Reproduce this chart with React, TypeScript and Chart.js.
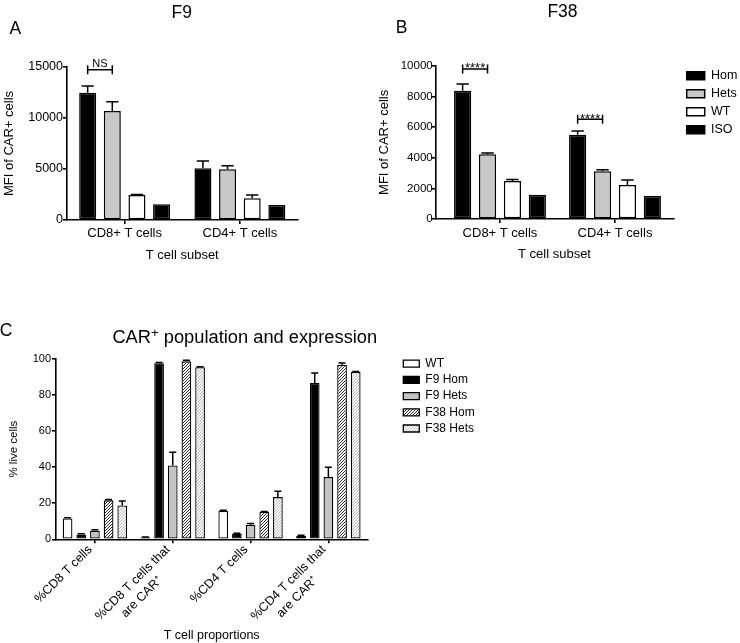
import React, { useEffect, useRef } from 'react';
import { Chart, registerables } from 'chart.js';

Chart.register(...registerables);

const FONT = '"Liberation Sans", Arial, Helvetica, sans-serif';
Chart.defaults.font.family = FONT;
Chart.defaults.color = '#000';

// ---------- Panels A (F9) and B (F38) ----------
const subsetCategories = ['CD8+ T cells', 'CD4+ T cells'];
const subsetSeries = ['Hom', 'Hets', 'WT', 'ISO'];

const f9Hom = [12480, 5070];
const f9HomErr = [650, 720];
const f9Hets = [10690, 4970];
const f9HetsErr = [900, 350];
const f9WT = [2440, 2140];
const f9WTErr = [60, 320];
const f9ISO = [1540, 1470];
const f9ISOErr = [0, 0];
const f9Ticks = [0, 5000, 10000, 15000];
const f9Brackets = [{ category: 0, from: 0, to: 1, value: 14735, label: 'NS' }];

const f38Hom = [8370, 5500];
const f38HomErr = [440, 240];
const f38Hets = [4220, 3110];
const f38HetsErr = [80, 100];
const f38WT = [2480, 2220];
const f38WTErr = [100, 320];
const f38ISO = [1590, 1500];
const f38ISOErr = [0, 0];
const f38Ticks = [0, 2000, 4000, 6000, 8000, 10000];
const f38Brackets = [
  { category: 0, from: 0, to: 1, value: 9785, label: '****' },
  { category: 1, from: 0, to: 1, value: 6504, label: '****' },
];

// ---------- Panel C ----------
const proportionCategories = [
  ['%CD8 T cells'],
  ['%CD8 T cells that', 'are CAR\u207A'],
  ['%CD4 T cells'],
  ['%CD4 T cells that', 'are CAR\u207A'],
];
const proportionSeries = ['WT', 'F9 Hom', 'F9 Hets', 'F38 Hom', 'F38 Hets'];
const cWT = [11.5, 1.1, 15.7, 1.8];
const cWTErr = [0.5, 0.2, 0.4, 0.5];
const cF9Hom = [2.6, 97.6, 3.1, 86.7];
const cF9HomErr = [0.5, 0.4, 0.2, 5.5];
const cF9Hets = [4.8, 41, 8.1, 34.5];
const cF9HetsErr = [0.5, 7.3, 0.7, 5.5];
const cF38Hom = [21.6, 98.7, 15.1, 96.8];
const cF38HomErr = [0.5, 0.6, 0.3, 1.0];
const cF38Hets = [18.8, 95.4, 23.4, 92.8];
const cF38HetsErr = [2.4, 0.3, 3.2, 0.3];
const cTicks = [0, 20, 40, 60, 80, 100];

// ---------- plugins ----------
const errorBarPlugin = {
  id: 'errorBars',
  afterDatasetsDraw(chart: any) {
    const ctx = chart.ctx;
    chart.data.datasets.forEach((ds: any, di: number) => {
      if (!ds.errors) return;
      const meta = chart.getDatasetMeta(di);
      const yScale = chart.scales[meta.yAxisID];
      meta.data.forEach((bar: any, i: number) => {
        const err = ds.errors[i];
        if (!err) return;
        const raw = ds.data[i];
        const v = typeof raw === 'number' ? raw : raw.y;
        const yTop = yScale.getPixelForValue(v + err);
        const p = bar.getProps(['x', 'y', 'width'], true);
        ctx.save();
        ctx.strokeStyle = '#000';
        ctx.lineWidth = 1.5;
        ctx.beginPath();
        ctx.moveTo(p.x, p.y);
        ctx.lineTo(p.x, yTop);
        ctx.moveTo(p.x - p.width * 0.36, yTop);
        ctx.lineTo(p.x + p.width * 0.36, yTop);
        ctx.stroke();
        ctx.restore();
      });
    });
  },
};

function makeBracketPlugin(items: any[]) {
  return {
    id: 'brackets',
    afterDatasetsDraw(chart: any) {
      const ctx = chart.ctx;
      const yScale = chart.scales.y;
      items.forEach((b) => {
        const x1 = chart.getDatasetMeta(b.from).data[b.category].x;
        const x2 = chart.getDatasetMeta(b.to).data[b.category].x;
        const y = yScale.getPixelForValue(b.value);
        ctx.save();
        ctx.strokeStyle = '#000';
        ctx.lineWidth = 1.5;
        ctx.beginPath();
        ctx.moveTo(x1, y);
        ctx.lineTo(x2, y);
        ctx.moveTo(x1, y - 4.5);
        ctx.lineTo(x1, y + 4.5);
        ctx.moveTo(x2, y - 4.5);
        ctx.lineTo(x2, y + 4.5);
        ctx.stroke();
        const stars = /^\*+$/.test(b.label);
        ctx.fillStyle = '#000';
        ctx.textAlign = 'center';
        ctx.textBaseline = 'alphabetic';
        ctx.font = `${stars ? 13 : 11}px ${FONT}`;
        ctx.fillText(b.label, (x1 + x2) / 2, y + (stars ? 3.5 : -2.5));
        ctx.restore();
      });
    },
  };
}

function hatch(color: string, size: number) {
  const c = document.createElement('canvas');
  c.width = size;
  c.height = size;
  const g = c.getContext('2d')!;
  g.fillStyle = '#fff';
  g.fillRect(0, 0, size, size);
  g.strokeStyle = color;
  g.lineWidth = 1;
  g.beginPath();
  g.moveTo(0, size);
  g.lineTo(size, 0);
  g.moveTo(-1, 1);
  g.lineTo(1, -1);
  g.moveTo(size - 1, size + 1);
  g.lineTo(size + 1, size - 1);
  g.stroke();
  return g.createPattern(c, 'repeat')!;
}

// ---------- helpers ----------
const LINE = 1.6;
const border = { display: true, color: '#000', width: LINE };

function yAxis(ticks: number[], title: string, o: any) {
  return {
    type: 'linear',
    min: ticks[0],
    max: ticks[ticks.length - 1],
    afterFit: (s: any) => { s.width = o.width; },
    afterBuildTicks: (s: any) => { s.ticks = ticks.map((v) => ({ value: v })); },
    border,
    grid: { drawOnChartArea: false, drawTicks: true, tickLength: 4, color: '#000', lineWidth: LINE },
    ticks: { color: '#000', font: { size: o.tickFont }, padding: o.tickPad, callback: (v: any) => String(v) },
    title: { display: true, text: title, color: '#000', font: { size: o.titleFont }, padding: { top: o.titlePad, bottom: 0 } },
  };
}

function dummy(position: string, size: number, type = 'linear') {
  return {
    type,
    position,
    display: true,
    afterFit: (s: any) => { if (position === 'top') s.height = size; else s.width = size; },
    ticks: { display: false },
    grid: { display: false, drawTicks: false },
    border: { display: false },
    title: { display: false },
  };
}

const subsetStyles = [
  { backgroundColor: '#000' },
  { backgroundColor: '#c8c8c8' },
  { backgroundColor: '#ffffff' },
  { backgroundColor: '#000' },
];

function configA(): any {
  const values = [f9Hom, f9Hets, f9WT, f9ISO];
  const errs = [f9HomErr, f9HetsErr, f9WTErr, f9ISOErr];
  return {
    type: 'bar',
    data: {
      labels: subsetCategories,
      datasets: subsetSeries.map((name, i) => ({
        label: name,
        data: values[i],
        errors: errs[i],
        ...subsetStyles[i],
        borderColor: '#000',
        borderWidth: 1.5,
        borderSkipped: false,
        categoryPercentage: 0.855,
        barPercentage: 0.69,
        xAxisID: 'x',
        yAxisID: 'y',
      })),
    },
    options: {
      responsive: false,
      animation: false,
      events: [],
      layout: { padding: { top: 67, left: 0, right: 2.5, bottom: 0 } },
      plugins: { legend: { display: false }, tooltip: { enabled: false } },
      scales: {
        x: {
          type: 'category',
          afterFit: (s: any) => { s.height = 50; },
          border,
          grid: { offset: false, drawOnChartArea: false, tickLength: 4, color: '#000', lineWidth: LINE },
          ticks: { color: '#000', font: { size: 13 }, padding: 1.5, maxRotation: 0, autoSkip: false },
          title: { display: true, text: 'T cell subset', color: '#000', font: { size: 13 }, padding: { top: 0, bottom: 6.5 } },
        },
        y: yAxis(f9Ticks, 'MFI of CAR+ cells', { width: 67, tickFont: 12.5, tickPad: 0, titleFont: 13, titlePad: 1.2 }),
      },
    },
    plugins: [errorBarPlugin, makeBracketPlugin(f9Brackets)],
  };
}

function configB(): any {
  const values = [f38Hom, f38Hets, f38WT, f38ISO];
  const errs = [f38HomErr, f38HetsErr, f38WTErr, f38ISOErr];
  const last = subsetCategories.length - 1;
  return {
    type: 'bar',
    data: {
      datasets: subsetSeries.map((name, i) => ({
        label: name,
        data: values[i].map((v, k) => ({ x: k, y: v })),
        errors: errs[i],
        ...subsetStyles[i],
        borderColor: '#000',
        borderWidth: 1.5,
        borderSkipped: false,
        categoryPercentage: 0.866,
        barPercentage: 0.69,
        xAxisID: 'x',
        yAxisID: 'y',
      })),
    },
    options: {
      responsive: false,
      animation: false,
      events: [],
      layout: { padding: { top: 64, left: 0, right: 0, bottom: 0 } },
      plugins: {
        tooltip: { enabled: false },
        legend: {
          display: true,
          position: 'right',
          align: 'start',
          maxWidth: 58.8,
          labels: { color: '#000', font: { size: 12.5 }, boxWidth: 18, boxHeight: 8, padding: 5.5 },
        },
      },
      scales: {
        x: {
          type: 'linear',
          min: -0.559,
          max: last + 0.507,
          offset: false,
          afterFit: (s: any) => { s.height = 51; },
          afterBuildTicks: (s: any) => { s.ticks = subsetCategories.map((_, k) => ({ value: k })); },
          border,
          grid: { offset: false, drawOnChartArea: false, tickLength: 4, color: '#000', lineWidth: LINE },
          ticks: {
            color: '#000', font: { size: 13 }, padding: 2.5, maxRotation: 0, autoSkip: false,
            callback: (v: any) => subsetCategories[Math.round(v)] ?? '',
          },
          title: { display: true, text: 'T cell subset', color: '#000', font: { size: 13 }, padding: { top: 0, bottom: 7.9 } },
        },
        xTop: dummy('top', 1.7),
        y: yAxis(f38Ticks, 'MFI of CAR+ cells', { width: 65.7, tickFont: 11.5, tickPad: -1, titleFont: 13, titlePad: 6.5 }),
        yRight: dummy('right', 7.9),
      },
    },
    plugins: [errorBarPlugin, makeBracketPlugin(f38Brackets)],
  };
}

function configC(): any {
  const values = [cWT, cF9Hom, cF9Hets, cF38Hom, cF38Hets];
  const errs = [cWTErr, cF9HomErr, cF9HetsErr, cF38HomErr, cF38HetsErr];
  const fills: any[] = ['#ffffff', '#000000', '#c4c4c4', hatch('#2a2a2a', 3), hatch('#b4b4b4', 3)];
  return {
    type: 'bar',
    data: {
      labels: proportionCategories,
      datasets: proportionSeries.map((name, i) => ({
        label: name,
        data: values[i],
        errors: errs[i],
        backgroundColor: fills[i],
        borderColor: '#000',
        borderWidth: 1.3,
        borderSkipped: false,
        categoryPercentage: 0.878,
        barPercentage: 0.71,
        xAxisID: 'x',
        yAxisID: 'y',
      })),
    },
    options: {
      responsive: false,
      animation: false,
      events: [],
      layout: { padding: { top: 53.5, left: 0, right: 0, bottom: 0 } },
      plugins: {
        tooltip: { enabled: false },
        legend: {
          display: true,
          position: 'right',
          align: 'start',
          maxWidth: 80.9,
          labels: { color: '#000', font: { size: 12 }, boxWidth: 16, boxHeight: 7, padding: 4.2 },
        },
      },
      scales: {
        x: {
          type: 'category',
          afterFit: (s: any) => { s.height = 103.7; },
          border,
          grid: { offset: false, drawOnChartArea: false, tickLength: 4, color: '#000', lineWidth: LINE },
          ticks: {
            color: '#000', font: { size: 12.5, lineHeight: 1.3 }, padding: -1.4, labelOffset: -4.6,
            minRotation: 45, maxRotation: 45, autoSkip: false,
            callback: (v: any) => {
              const lines = proportionCategories[v] || [];
              return lines.map((l, k) => (k > 0 ? l + '\u00a0'.repeat(8) : l));
            },
          },
          title: { display: true, text: 'T cell proportions', color: '#000', font: { size: 12.5 }, padding: { top: 0, bottom: 0 } },
        },
        xTop: dummy('top', 5.5, 'category'),
        y: yAxis(cTicks, '% live cells', { width: 56, tickFont: 11, tickPad: 1, titleFont: 11.5, titlePad: 7 }),
        yRight: dummy('right', 31.8),
      },
    },
    plugins: [errorBarPlugin],
  };
}

function Label(props: { x: number; y: number; size: number; children: any }) {
  return (
    <div
      style={{
        position: 'absolute',
        left: props.x,
        top: props.y,
        transform: 'translate(-50%, -50%)',
        fontSize: props.size,
        lineHeight: 1,
        whiteSpace: 'nowrap',
        fontFamily: FONT,
        color: '#000',
      }}
    >
      {props.children}
    </div>
  );
}

export default function App() {
  const refA = useRef<HTMLCanvasElement>(null);
  const refB = useRef<HTMLCanvasElement>(null);
  const refC = useRef<HTMLCanvasElement>(null);

  useEffect(() => {
    const charts = [
      new Chart(refA.current!, configA()),
      new Chart(refB.current!, configB()),
      new Chart(refC.current!, configC()),
    ];
    return () => charts.forEach((c) => c.destroy());
  }, []);

  return (
    <div
      style={{
        position: 'absolute',
        left: 0,
        top: 0,
        width: 740,
        height: 643,
        background: '#fff',
        overflow: 'hidden',
        fontFamily: FONT,
      }}
    >
      <canvas ref={refA} width={300} height={270} style={{ position: 'absolute', left: 0, top: 0, width: 300, height: 270 }} />
      <canvas ref={refB} width={370} height={270} style={{ position: 'absolute', left: 370, top: 0, width: 370, height: 270 }} />
      <canvas ref={refC} width={480} height={343} style={{ position: 'absolute', left: 0, top: 300, width: 480, height: 343 }} />
      <Label x={15.3} y={28.8} size={17.5}>A</Label>
      <Label x={181.7} y={12.5} size={17.5}>F9</Label>
      <Label x={401.7} y={28.2} size={17.5}>B</Label>
      <Label x={562.5} y={12.2} size={17.5}>F38</Label>
      <Label x={6} y={330.8} size={17.5}>C</Label>
      <Label x={244.8} y={336.5} size={18.3}>
        CAR<sup style={{ fontSize: '72%', verticalAlign: '0.45em', lineHeight: 0 }}>+</sup> population and expression
      </Label>
    </div>
  );
}
